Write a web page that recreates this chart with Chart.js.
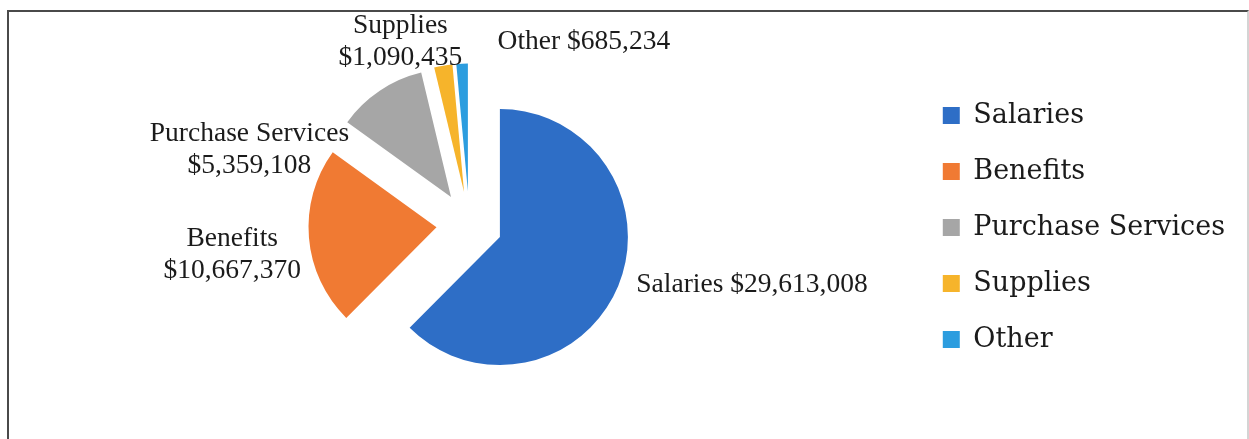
<!DOCTYPE html>
<html>
<head>
<meta charset="utf-8">
<script src="https://cdn.jsdelivr.net/npm/chart.js@4.4.0/dist/chart.umd.min.js"></script>
<style>
  html, body { margin: 0; padding: 0; background: #fff; overflow: hidden; }
  #wrap { position: relative; width: 1249px; height: 439px; }
  #frame {
    position: absolute; left: 7px; top: 10px; width: 1238px; height: 440px;
    border: 2px solid #4a4a4a; border-right-color: #d4d4d4; border-bottom: none;
  }
  canvas { position: absolute; left: 0; top: 0; }
</style>
</head>
<body>
<div id="wrap">
  <div id="frame"></div>
  <canvas id="pie"></canvas>
</div>
<script>
const categories = ["Salaries", "Benefits", "Purchase Services", "Supplies", "Other"];
const amounts = [29613008, 10667370, 5359108, 1090435, 685234];
const sliceColors = ["#2e6ec6", "#f07a33", "#a6a6a6", "#f6b42b", "#2c9ddf"];

const TEXT = "#1b1b1b";

// placement of each data label relative to the point just outside its arc
const labelPlacement = [
  { align: "left", wrap: false, dx: 7, dy: -6 },
  { align: "right", wrap: true, dx: 4, dy: 16 },
  { align: "right", wrap: true, dx: -24, dy: 69 },
  { align: "right", wrap: true, dx: 21, dy: -12 },
  { align: "left", wrap: false, dx: 36, dy: -10 }
];

// Excel style explode: every slice pulled out the same distance, radius kept.
// (the built-in `offset` also grows the radius of small slices and thins them)
const explodedPie = {
  id: "explodedPie",
  beforeDatasetDraw(chart, args, opts) {
    const { ctx } = chart;
    args.meta.data.forEach((arc) => {
      const mid = (arc.startAngle + arc.endAngle) / 2;
      ctx.save();
      ctx.translate(Math.cos(mid) * opts.distance, Math.sin(mid) * opts.distance);
      arc.draw(ctx, chart.chartArea);
      ctx.restore();
    });
    return false;
  }
};

const sliceLabels = {
  id: "sliceLabels",
  afterDatasetsDraw(chart, args, opts) {
    const { ctx } = chart;
    const meta = chart.getDatasetMeta(0);
    const pull = chart.options.plugins.explodedPie.distance;
    ctx.save();
    ctx.fillStyle = opts.color;
    ctx.font = opts.font;
    ctx.textBaseline = "middle";
    ctx.textAlign = "center";
    meta.data.forEach((arc, i) => {
      const mid = (arc.startAngle + arc.endAngle) / 2;
      const dist = pull + arc.outerRadius + opts.gap;
      const place = labelPlacement[i];
      const ax = arc.x + Math.cos(mid) * dist + place.dx;
      const ay = arc.y + Math.sin(mid) * dist + place.dy;
      const money = "$" + amounts[i].toLocaleString("en-US");
      const lines = place.wrap ? [categories[i], money] : [categories[i] + " " + money];
      const blockW = Math.max(...lines.map((l) => ctx.measureText(l).width));
      const left = place.align === "left" ? ax : ax - blockW;
      const top = ay - (lines.length - 1) * opts.lineHeight / 2;
      lines.forEach((l, k) => {
        ctx.fillText(l, left + blockW / 2, top + k * opts.lineHeight);
      });
    });
    ctx.restore();
  }
};

new Chart(document.getElementById("pie"), {
  type: "pie",
  data: {
    labels: categories,
    datasets: [{
      data: amounts,
      backgroundColor: sliceColors,
      borderWidth: 0,
      clip: false
    }]
  },
  options: {
    responsive: true,
    maintainAspectRatio: false,
    animation: false,
    events: [],
    radius: 128,
    layout: { padding: { left: 25, right: 14, top: 10, bottom: -6 } },
    plugins: {
      tooltip: { enabled: false },
      legend: {
        position: "right",
        align: "center",
        labels: {
          color: TEXT,
          boxWidth: 17,
          boxHeight: 17,
          padding: 29,
          font: { family: "'DejaVu Serif', serif", size: 27 }
        }
      },
      explodedPie: { distance: 33 },
      sliceLabels: {
        color: TEXT,
        font: "27.5px 'Liberation Serif', serif",
        lineHeight: 32,
        gap: 12
      }
    }
  },
  plugins: [explodedPie, sliceLabels]
});
</script>
</body>
</html>
